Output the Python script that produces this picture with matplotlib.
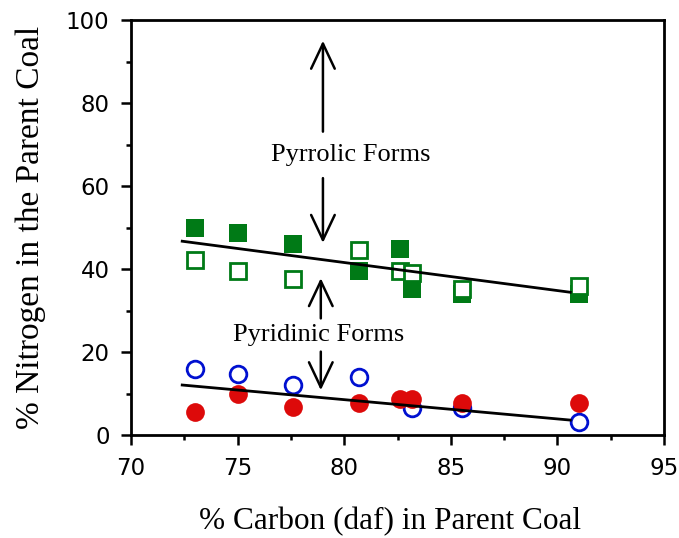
import matplotlib
matplotlib.use("Agg")
import matplotlib.pyplot as plt
from matplotlib.patches import FancyArrowPatch
from matplotlib.ticker import MultipleLocator

# % carbon (daf) of each parent coal
carbon = [73.0, 75.0, 77.6, 80.7, 82.6, 83.2, 85.5, 91.0]

# Pyrrolic nitrogen, two measurement sets
pyrrolic_filled = [50.0, 48.6, 46.1, 39.6, 44.8, 35.1, 34.0, 34.0]
pyrrolic_open = [42.2, 39.6, 37.7, 44.7, 39.6, 39.0, 35.1, 36.0]

# Pyridinic nitrogen, two measurement sets
pyridinic_filled = [5.6, 10.0, 6.8, 7.6, 8.8, 8.8, 7.6, 7.6]
carbon_open_pyr = [73.0, 75.0, 77.6, 80.7, 83.2, 85.5, 91.0]
pyridinic_open = [15.8, 14.6, 12.0, 14.1, 6.4, 6.4, 3.2]

# Linear trend lines
trend_x = [72.4, 90.6]
pyrrolic_trend = [46.7, 34.4]
pyridinic_trend = [12.05, 3.6]

green = "#007a16"
red = "#dd0a0a"
blue = "#0010d0"

fig = plt.figure(figsize=(6.79, 5.38), dpi=100)
ax = fig.add_axes([0.193, 0.1914, 0.785, 0.7714])

ax.plot(carbon, pyrrolic_filled, ls="none", marker="s", ms=13,
        mfc=green, mec=green, mew=0, zorder=3)
ax.plot(carbon, pyrrolic_open, ls="none", marker="s", ms=12,
        mfc="white", mec=green, mew=2.0, zorder=4)
ax.plot(carbon_open_pyr, pyridinic_open, ls="none", marker="o", ms=12,
        mfc="white", mec=blue, mew=2.0, zorder=3)
ax.plot(carbon, pyridinic_filled, ls="none", marker="o", ms=13.5,
        mfc=red, mec=red, mew=0, zorder=4)

ax.plot(trend_x, pyrrolic_trend, color="black", lw=2.0, zorder=5)
ax.plot(trend_x, pyridinic_trend, color="black", lw=2.0, zorder=5)

serif = ["Liberation Serif", "DejaVu Serif"]

def arrow(x, y0, y1):
    a = FancyArrowPatch((x, y0), (x, y1), arrowstyle="->,head_length=1.8,head_width=0.85",
                        mutation_scale=10, lw=1.8, color="black", zorder=6,
                        shrinkA=0, shrinkB=0)
    ax.add_patch(a)

arrow(79.0, 73.1, 95.0)
arrow(79.0, 61.9, 46.3)
arrow(78.9, 28.1, 37.8)
arrow(78.9, 20.1, 10.8)

ax.text(80.3, 67.5, "Pyrrolic Forms", family=serif, fontsize=19,
        ha="center", va="center", zorder=7)
ax.text(78.8, 24.1, "Pyridinic Forms", family=serif, fontsize=19,
        ha="center", va="center", zorder=7)

ax.set_xlim(70, 95)
ax.set_ylim(0, 100)
ax.xaxis.set_major_locator(MultipleLocator(5))
ax.xaxis.set_minor_locator(MultipleLocator(2.5))
ax.yaxis.set_major_locator(MultipleLocator(20))
ax.yaxis.set_minor_locator(MultipleLocator(10))

for s in ax.spines.values():
    s.set_linewidth(2.0)
ax.tick_params(which="both", direction="out", top=False, right=False, width=1.8)
ax.tick_params(which="major", length=7.5, pad=8, labelsize=16.5)
ax.tick_params(which="minor", length=3.6)
for lab in ax.get_xticklabels() + ax.get_yticklabels():
    lab.set_family(["DejaVu Sans"])

ax.set_xlabel("% Carbon (daf) in Parent Coal", family=serif, fontsize=22.5, labelpad=20)
ax.xaxis.label.set_x(0.486)
ax.set_ylabel("% Nitrogen in the Parent Coal", family=serif, fontsize=24, labelpad=14)

fig.savefig("out.png", dpi=100)
